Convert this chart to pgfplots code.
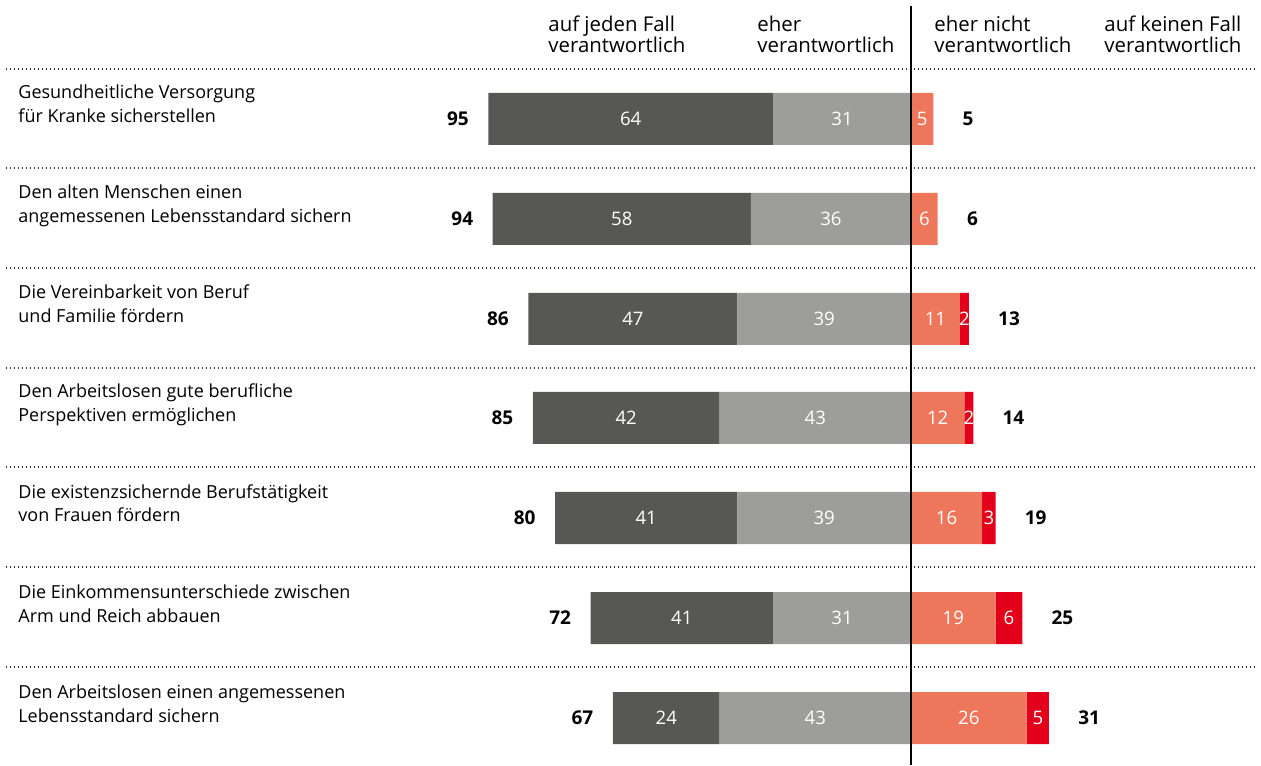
\documentclass[border=0pt]{standalone}
\usepackage{fontspec}
\setmainfont{Open Sans}
\usepackage{pgfplots}
\pgfplotsset{compat=1.18}
\definecolor{cdark}{HTML}{575756}
\definecolor{clight}{HTML}{9D9D9C}
\definecolor{csalmon}{HTML}{EE765A}
\definecolor{cred}{HTML}{E2001A}
% 1 px of the reference = 0.5pt; value scale 4.45 px per percent point
\newcommand\PX[1]{{((#1)-911)/4.45}}
\pgfplotsset{
  base/.style={
    width=630.5pt, height=382.5pt, scale only axis,
    xmin={-911/4.45}, xmax={350/4.45},
    ymin=0, ymax=765, y dir=reverse,
    axis lines=none, clip=false,
    xbar stacked, bar width=52,
  },
}
\tikzset{
  cat/.style={anchor=base west, inner sep=0pt, font=\fontsize{9.0}{11}\selectfont, text=black},
  head/.style={anchor=base west, inner sep=0pt, font=\fontsize{10.2}{12}\selectfont, text=black},
  inb/.style={anchor=center, inner sep=0pt, font=\fontsize{9.3}{11}\selectfont, text=white},
  totl/.style={anchor=east, inner sep=0pt, font=\fontsize{9.5}{11}\selectfont\bfseries, text=black},
  totr/.style={anchor=west, inner sep=0pt, font=\fontsize{9.5}{11}\selectfont\bfseries, text=black},
  dots/.style={line width=0.65pt, dash pattern=on 0.65pt off 1.35pt, black!80},
}
\begin{document}
\begin{tikzpicture}
% left side: eher verantwortlich (inner) + auf jeden Fall verantwortlich (outer)
\begin{axis}[base]
\path (rel axis cs:0,0) (rel axis cs:1,1);
\addplot[fill=clight, draw=none] coordinates {(-31,119) (-36,219) (-39,319) (-43,418) (-39,518) (-31,618) (-43,718)};
\addplot[fill=cdark, draw=none] coordinates {(-64,119) (-58,219) (-47,319) (-42,418) (-41,518) (-41,618) (-24,718)};
\end{axis}
% right side: eher nicht (inner) + auf keinen Fall (outer)
\begin{axis}[base]
\addplot[fill=csalmon, draw=none] coordinates {(5,119) (6,219) (11,319) (12,418) (16,518) (19,618) (26,718)};
\addplot[fill=cred, draw=none] coordinates {(0,119) (0,219) (2,319) (2,418) (3,518) (6,618) (5,718)};
\end{axis}
% texts and rules
\begin{axis}[base]
\draw[black, line width=0.75pt] (axis cs:0,6) -- (axis cs:0,765);
\foreach \yy in {69,168,268,368,467,567,667}{
  \edef\tmp{\noexpand\draw[dots] (axis cs:\PX{6},\yy) -- (axis cs:\PX{1258},\yy);}\tmp
}
% headers
\node[head] at (axis cs:\PX{548},32) {auf jeden Fall};
\node[head] at (axis cs:\PX{548},53) {verantwortlich};
\node[head] at (axis cs:\PX{757},32) {eher};
\node[head] at (axis cs:\PX{757},53) {verantwortlich};
\node[head] at (axis cs:\PX{934},32) {eher nicht};
\node[head] at (axis cs:\PX{934},53) {verantwortlich};
\node[head] at (axis cs:\PX{1104},32) {auf keinen Fall};
\node[head] at (axis cs:\PX{1104},53) {verantwortlich};
% category labels
\node[cat] at (axis cs:\PX{18},99) {Gesundheitliche Versorgung};
\node[cat] at (axis cs:\PX{18},123) {für Kranke sicherstellen};
\node[cat] at (axis cs:\PX{18},199) {Den alten Menschen einen};
\node[cat] at (axis cs:\PX{18},223) {angemessenen Lebensstandard sichern};
\node[cat] at (axis cs:\PX{18},299) {Die Vereinbarkeit von Beruf};
\node[cat] at (axis cs:\PX{18},323) {und Familie fördern};
\node[cat] at (axis cs:\PX{18},398) {Den Arbeitslosen gute berufliche};
\node[cat] at (axis cs:\PX{18},422) {Perspektiven ermöglichen};
\node[cat] at (axis cs:\PX{18},498) {Die existenzsichernde Berufstätigkeit};
\node[cat] at (axis cs:\PX{18},522) {von Frauen fördern};
\node[cat] at (axis cs:\PX{18},598) {Die Einkommensunterschiede zwischen};
\node[cat] at (axis cs:\PX{18},622) {Arm und Reich abbauen};
\node[cat] at (axis cs:\PX{18},698) {Den Arbeitslosen einen angemessenen};
\node[cat] at (axis cs:\PX{18},722) {Lebensstandard sichern};
% in-bar values, left
\node[inb] at (axis cs:-63,119) {64};   \node[inb] at (axis cs:-15.5,119) {31};
\node[inb] at (axis cs:-65,219) {58};   \node[inb] at (axis cs:-18,219) {36};
\node[inb] at (axis cs:-62.5,319) {47}; \node[inb] at (axis cs:-19.5,319) {39};
\node[inb] at (axis cs:-64,418) {42};   \node[inb] at (axis cs:-21.5,418) {43};
\node[inb] at (axis cs:-59.5,518) {41}; \node[inb] at (axis cs:-19.5,518) {39};
\node[inb] at (axis cs:-51.5,618) {41}; \node[inb] at (axis cs:-15.5,618) {31};
\node[inb] at (axis cs:-55,718) {24};   \node[inb] at (axis cs:-21.5,718) {43};
% in-bar values, right
\node[inb] at (axis cs:2.5,119) {5};
\node[inb] at (axis cs:3,219) {6};
\node[inb] at (axis cs:5.5,319) {11}; \node[inb] at (axis cs:12,319) {2};
\node[inb] at (axis cs:6,418) {12};   \node[inb] at (axis cs:13,418) {2};
\node[inb] at (axis cs:8,518) {16};   \node[inb] at (axis cs:17.5,518) {3};
\node[inb] at (axis cs:9.5,618) {19}; \node[inb] at (axis cs:22,618) {6};
\node[inb] at (axis cs:13,718) {26};  \node[inb] at (axis cs:28.5,718) {5};
% totals
\node[totl] at (axis cs:-99.3,119) {95};
\node[totl] at (axis cs:-98.3,219) {94};
\node[totl] at (axis cs:-90.3,319) {86};
\node[totl] at (axis cs:-89.3,418) {85};
\node[totl] at (axis cs:-84.3,518) {80};
\node[totl] at (axis cs:-76.3,618) {72};
\node[totl] at (axis cs:-71.3,718) {67};
\node[totr] at (axis cs:11.5,119) {5};
\node[totr] at (axis cs:12.5,219) {6};
\node[totr] at (axis cs:19.5,319) {13};
\node[totr] at (axis cs:20.5,418) {14};
\node[totr] at (axis cs:25.5,518) {19};
\node[totr] at (axis cs:31.5,618) {25};
\node[totr] at (axis cs:37.5,718) {31};
\end{axis}
\end{tikzpicture}
\end{document}
